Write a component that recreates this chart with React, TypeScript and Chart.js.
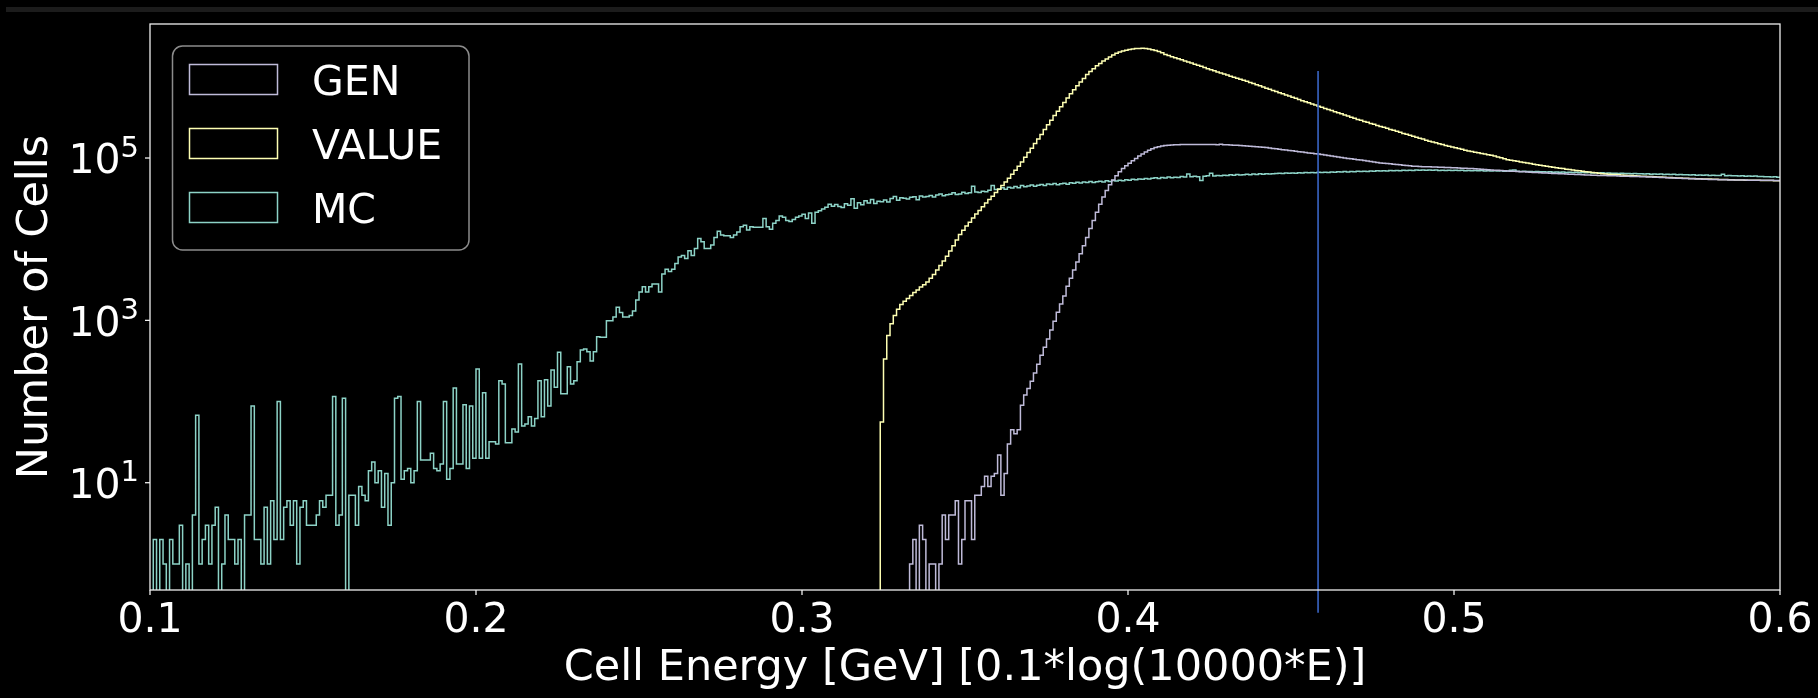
import { useEffect, useRef } from 'react';
import { Chart, registerables } from 'chart.js';

Chart.register(...registerables);

// Axis ranges
const X_MIN = 0.1;
const X_MAX = 0.6;
const BIN_WIDTH = 0.001;
const Y_MIN = 0.4767;
const Y_MAX = 4.476e6;
// Empty bins are drawn just below the bottom of the log axis
const EMPTY_BIN_LEVEL = Y_MIN / 10;

const xTickValues = [0.1, 0.2, 0.3, 0.4, 0.5, 0.6];
const xTickLabels = ['0.1', '0.2', '0.3', '0.4', '0.5', '0.6'];
const yTickExponents = [1, 3, 5];

const xTitle = 'Cell Energy [GeV] [0.1*log(10000*E)]';
const yTitle = 'Number of Cells';

// Bin edges: 500 bins of 0.001 between 0.1 and 0.6
const binEdges = Array.from({ length: 501 }, (_, i) => Number((X_MIN + i * BIN_WIDTH).toFixed(3)));

// MC counts per bin (bins 0..499)
const mcCounts = [
  0, 2, 0, 2, 1, 0, 2, 1, 1, 3,
  0, 1, 0, 4, 68, 1, 2, 3, 1, 3,
  5, 0, 1, 4, 2, 2, 1, 2, 0, 4,
  4, 88, 2, 2, 1, 5, 1, 6, 2, 100,
  2, 5, 6, 3, 6, 1, 5, 6, 3, 3,
  3, 4, 6, 5, 7, 7, 115, 3, 4, 110,
  0, 7, 7, 3, 9, 7, 6, 14, 18, 10,
  14, 5, 13, 3, 10, 110, 115, 11, 14, 15,
  10, 14, 100, 19, 19, 19, 23, 15, 14, 17,
  100, 11, 15, 147, 17, 17, 91, 15, 88, 20,
  251, 20, 128, 20, 32, 32, 30, 180, 165, 31,
  31, 46, 42, 290, 50, 53, 65, 50, 62, 180,
  65, 185, 88, 245, 150, 405, 125, 125, 268, 165,
  180, 310, 430, 445, 410, 315, 410, 630, 620, 620,
  990, 990, 1100, 1450, 1250, 1100, 1100, 1150, 1300, 1780,
  2240, 2590, 2240, 2600, 2800, 2800, 2240, 3720, 4260, 4000,
  4260, 5020, 6050, 6300, 5800, 7200, 6300, 7700, 10200, 9300,
  7700, 7700, 8500, 10500, 12500, 11300, 11000, 11000, 10500, 11300,
  12300, 14200, 14800, 13000, 14200, 14000, 14000, 14000, 18000, 14200,
  13300, 15700, 17000, 19300, 18600, 17000, 16500, 17500, 18600, 19300,
  20300, 18000, 21000, 15700, 21500, 22400, 23500, 24800, 27000, 25500,
  26800, 25200, 24600, 27400, 26100, 31500, 24000, 28200, 26500, 29800,
  28000, 30900, 27600, 29300, 29000, 30400, 28700, 31800, 33600, 30200,
  32500, 32000, 31200, 32900, 33400, 30600, 34100, 33000, 33500, 34600,
  33200, 35000, 36100, 34400, 35300, 35800, 37200, 35600, 36000, 37900,
  36500, 37400, 44800, 38100, 37600, 39000, 38400, 40200, 46000, 40800,
  41500, 42900, 41100, 43600, 42800, 44500, 43000, 45700, 44100, 45200,
  46600, 44900, 46100, 47300, 46000, 47900, 47100, 48600, 46800, 48300,
  48900, 47600, 49500, 48700, 50200, 49100, 50600, 49800, 51300, 50000,
  50900, 51800, 50700, 52400, 51500, 52900, 52000, 53300, 52600, 53800,
  53100, 54600, 53900, 55200, 54800, 56000, 55100, 56500, 57300, 55900,
  57600, 56800, 58400, 57200, 58000, 57500, 59100, 58200, 63500, 58600,
  59400, 58900, 53000, 59800, 60500, 64800, 60200, 61000, 60400, 61500,
  60900, 62100, 61400, 62600, 61800, 62300, 63100, 62200, 63500, 62700,
  63800, 63000, 64200, 63400, 64000, 64600, 64900, 64300, 65200, 64800,
  65500, 65000, 65800, 65300, 66100, 65600, 66400, 65900, 66800, 66200,
  67000, 66500, 67300, 66900, 67700, 67100, 68000, 67400, 68300, 67800,
  68600, 68100, 68900, 68400, 69200, 68700, 69500, 69000, 69800, 69300,
  70100, 69600, 70400, 69900, 70600, 70200, 70900, 70400, 71200, 70600,
  71000, 70500, 71300, 70700, 71100, 70400, 70900, 70200, 70800, 70300,
  70700, 70100, 70600, 69900, 70400, 69800, 70200, 69600, 70000, 69400,
  69900, 69200, 69700, 69000, 69500, 68800, 69300, 70500, 71000, 68600,
  68200, 68700, 68000, 68400, 67800, 68100, 67500, 67900, 67300, 67600,
  67000, 67400, 66800, 67100, 66500, 66900, 66300, 66600, 66000, 66400,
  65800, 66100, 65500, 65900, 65300, 65600, 65000, 65400, 64800, 65100,
  64500, 64900, 64300, 64600, 64000, 64400, 63800, 64100, 63500, 63900,
  63300, 63600, 63000, 63400, 62800, 63100, 62500, 62900, 62300, 62600,
  62000, 62400, 61800, 62100, 61500, 61900, 61300, 61600, 61000, 61400,
  60800, 61100, 63000, 60500, 60900, 60300, 60600, 60000, 60400, 59800,
  60100, 59500, 59900, 59300, 59000, 58700, 58900, 58400, 58600, 58100,
];

// VALUE counts, starting at bin 224 (earlier bins are empty)
const valueFirstBin = 224;
const valueCounts = [
  56, 333, 650, 906, 1150, 1370, 1570, 1720, 1860, 2020,
  2200, 2370, 2570, 2750, 2960, 3310, 3670, 4170, 4730, 5370,
  6150, 7160, 8320, 9770, 11400, 12900, 14500, 16200, 18200, 20400,
  22600, 25100, 27900, 30900, 33900, 37600, 41200, 45700, 50700, 56200,
  63100, 70800, 79400, 89100, 102000, 117000, 132000, 151000, 171000, 195000,
  224000, 257000, 292000, 333000, 376000, 427000, 484000, 550000, 620000, 692000,
  776000, 861000, 955000, 1067000, 1161000, 1259000, 1365000, 1462000, 1567000, 1660000,
  1758000, 1854000, 1950000, 2018000, 2080000, 2128000, 2173000, 2203000, 2228000, 2239000,
  2242000, 2228000, 2203000, 2163000, 2113000, 2051000, 1986000, 1884000, 1828000, 1770000,
  1718000, 1667000, 1618000, 1570000, 1524000, 1479000, 1432000, 1387000, 1346000, 1303000,
  1262000, 1225000, 1186000, 1151000, 1114000, 1081000, 1050000, 1019000, 991000, 962000,
  933000, 906000, 881000, 853000, 826000, 800000, 774000, 750000, 724000, 701000,
  679000, 658000, 637000, 617000, 597000, 579000, 561000, 543000, 526000, 509000,
  493000, 479000, 463000, 449000, 435000, 422000, 408000, 396000, 384000, 372000,
  361000, 350000, 339000, 329000, 318000, 309000, 299000, 291000, 282000, 275000,
  267000, 260000, 252000, 245000, 239000, 232000, 225000, 219000, 213000, 207000,
  201000, 196000, 191000, 185000, 180000, 175000, 171000, 166000, 161000, 157000,
  154000, 150000, 147000, 143000, 140000, 137000, 134000, 131000, 128000, 125000,
  122000, 120000, 118000, 116000, 114000, 112000, 110000, 108000, 106000, 103000,
  100500, 98000, 95500, 94000, 92500, 91000, 89500, 88100, 86700, 85300,
  83900, 82600, 81300, 80200, 79100, 78200, 77100, 76000, 75000, 74000,
  72900, 72100, 71100, 70300, 69500, 68700, 67900, 67100, 66400, 65600,
  64900, 64100, 63500, 63100, 62800, 62500, 62100, 61800, 61500, 61100,
  60800, 60500, 60100, 59800, 59600, 59300, 59000, 58700, 58500, 58200,
  57900, 57700, 57400, 57100, 56900, 56800, 56500, 56200, 56100, 55800,
  55700, 55500, 55200, 55100, 55000, 54800, 54600, 54400, 54300, 54200,
  54000, 53800, 53700, 53600, 53500, 53300, 53300, 53200, 53100, 53100,
  53000, 52800, 52800, 52700, 52600, 52500,
];

// GEN counts, starting at bin 233 (earlier bins are empty)
const genFirstBin = 233;
const genCounts = [
  1, 2, 0, 3, 2, 0, 1, 1, 0, 1,
  4, 2, 4, 4, 6, 1, 2, 6, 6, 2,
  7, 7, 9, 12, 9, 12, 13, 22, 7, 13,
  30, 45, 40, 45, 90, 120, 145, 178, 224, 288,
  372, 468, 589, 759, 977, 1260, 1590, 2000, 2630, 3310,
  4170, 5250, 6610, 8320, 10500, 13500, 17000, 21400, 26900, 33100,
  39800, 46800, 53700, 60300, 67600, 74100, 80400, 86100, 92300, 98900,
  105900, 112200, 118900, 124500, 130300, 134900, 138000, 140600, 142200, 143600,
  144500, 145200, 145900, 146200, 146600, 146900, 146900, 147200, 146900, 146900,
  146900, 146900, 146600, 146200, 145900, 147900, 145500, 145200, 144500, 143900,
  143200, 142600, 141900, 140900, 140000, 139000, 138000, 136800, 135500, 134300,
  132800, 131200, 129700, 128200, 126800, 125300, 123900, 122500, 121100, 119700,
  118300, 117000, 115600, 114300, 113000, 111700, 110200, 108600, 107200, 105700,
  104200, 102800, 101400, 100000, 98900, 97700, 96600, 95300, 94200, 92900,
  91600, 90600, 89300, 88300, 87100, 86300, 85500, 84700, 83900, 83200,
  82400, 81700, 80900, 80200, 79400, 79100, 78700, 78300, 78000, 77800,
  77400, 77300, 77100, 76900, 76600, 76400, 76000, 75700, 75300, 75000,
  74600, 74300, 74000, 73600, 73100, 72600, 72100, 71600, 71100, 70800,
  70500, 70000, 69500, 69200, 68900, 68500, 68100, 67800, 67500, 67100,
  66800, 66400, 66100, 65800, 65500, 65200, 64900, 64600, 64300, 64000,
  63800, 63500, 63200, 63100, 62800, 62500, 62200, 61900, 61700, 61500,
  61200, 61100, 61000, 60800, 60500, 60400, 60300, 60100, 59800, 59700,
  59600, 59300, 59200, 59000, 58900, 58600, 58500, 58200, 58100, 57800,
  57500, 57400, 57100, 56900, 56800, 56500, 56200, 56100, 55800, 55600,
  55500, 55200, 55000, 54800, 54600, 54500, 54300, 54200, 54100, 54000,
  53800, 53700, 53700, 53600, 53600, 53500, 53500, 53300, 53300, 53200,
  53200, 53200, 53100, 53100, 53100, 53000, 53000,
];

// Reference energy marked by a vertical line
const markerLineX = 0.4583;

const COLORS = {
  GEN: '#bfbbd9',
  VALUE: '#feffb3',
  MC: '#8dd3c7',
  marker: '#3a66c6',
  text: '#ffffff',
  spine: '#eeeeee',
  legendEdge: '#8c8c8c',
};

const legendEntries = [
  { label: 'GEN', color: COLORS.GEN },
  { label: 'VALUE', color: COLORS.VALUE },
  { label: 'MC', color: COLORS.MC },
];

const FONT = '"DejaVu Sans", "Liberation Sans", sans-serif';

// Outline of a step histogram as points for a stepped line;
// empty bins drop below the axis like a log-scale histogram does
function histogramPoints(counts: number[], firstBin: number) {
  const level = (c: number) => (c > 0 ? c : EMPTY_BIN_LEVEL);
  const pts: { x: number; y: number }[] = [{ x: binEdges[firstBin], y: EMPTY_BIN_LEVEL }];
  counts.forEach((c, k) => pts.push({ x: binEdges[firstBin + k], y: level(c) }));
  pts.push({ x: binEdges[firstBin + counts.length], y: level(counts[counts.length - 1]) });
  return pts;
}

const decorations = {
  id: 'decorations',
  afterDatasetsDraw(chart: any) {
    const { ctx, chartArea: a, scales } = chart;
    const xs = scales.x;
    const ys = scales.y;
    const h = a.bottom - a.top;
    ctx.save();

    // black band below the plot hides the parts of the step outlines that dip under the axis
    ctx.fillStyle = '#000';
    ctx.fillRect(a.left - 2, a.bottom + 0.7, a.right - a.left + 4, 6);

    // vertical marker line
    const mx = xs.getPixelForValue(markerLineX);
    ctx.strokeStyle = COLORS.marker;
    ctx.lineWidth = 1.6;
    ctx.beginPath();
    ctx.moveTo(mx, a.bottom - 0.917 * h);
    ctx.lineTo(mx, a.bottom + 0.04 * h);
    ctx.stroke();

    // axes frame
    ctx.strokeStyle = COLORS.spine;
    ctx.lineWidth = 1.3;
    ctx.strokeRect(a.left, a.top, a.right - a.left, a.bottom - a.top);

    // x ticks and labels
    ctx.fillStyle = COLORS.text;
    ctx.font = `41px ${FONT}`;
    ctx.textAlign = 'center';
    ctx.textBaseline = 'alphabetic';
    xTickValues.forEach((v, i) => {
      const px = xs.getPixelForValue(v);
      ctx.beginPath();
      ctx.moveTo(px, a.bottom);
      ctx.lineTo(px, a.bottom + 5);
      ctx.stroke();
      ctx.fillText(xTickLabels[i], px, a.bottom + 41.7);
    });

    // y ticks and labels (10^n)
    yTickExponents.forEach((e) => {
      const py = ys.getPixelForValue(Math.pow(10, e));
      ctx.beginPath();
      ctx.moveTo(a.left - 5, py);
      ctx.lineTo(a.left, py);
      ctx.stroke();
      ctx.font = `41px ${FONT}`;
      const baseW = ctx.measureText('10').width;
      ctx.font = `29px ${FONT}`;
      const supW = ctx.measureText(String(e)).width;
      const right = a.left - 11;
      const start = right - baseW - supW;
      ctx.textAlign = 'left';
      ctx.font = `41px ${FONT}`;
      ctx.fillText('10', start, py + 15.3);
      ctx.font = `29px ${FONT}`;
      ctx.fillText(String(e), start + baseW, py - 1.3);
    });

    // axis titles
    ctx.font = `43px ${FONT}`;
    ctx.textAlign = 'center';
    ctx.fillText(xTitle, (a.left + a.right) / 2, 680);
    ctx.save();
    ctx.translate(47, (a.top + a.bottom) / 2);
    ctx.rotate(-Math.PI / 2);
    ctx.fillText(yTitle, 0, 0);
    ctx.restore();

    // legend
    ctx.fillStyle = 'rgba(0,0,0,0.8)';
    ctx.strokeStyle = COLORS.legendEdge;
    ctx.lineWidth = 1.5;
    ctx.beginPath();
    ctx.roundRect(172.5, 46, 296.5, 204, 10);
    ctx.fill();
    ctx.stroke();
    ctx.font = `41px ${FONT}`;
    ctx.textAlign = 'left';
    legendEntries.forEach((entry, i) => {
      const top = 64.5 + i * 64;
      ctx.strokeStyle = entry.color;
      ctx.lineWidth = 1.5;
      ctx.strokeRect(189.5, top, 88, 30);
      ctx.fillStyle = COLORS.text;
      ctx.fillText(entry.label, 312, top + 30);
    });

    ctx.restore();
  },
};

export default function App() {
  const canvasRef = useRef<HTMLCanvasElement | null>(null);

  useEffect(() => {
    document.body.style.margin = '0';
    document.body.style.background = '#000';
    const canvas = canvasRef.current;
    if (!canvas) return;

    const lineStyle = {
      pointRadius: 0,
      borderWidth: 1.5,
      fill: false,
      stepped: true as const,
      tension: 0,
    };

    const chart = new Chart(canvas, {
      type: 'line',
      data: {
        datasets: [
          { label: 'GEN', data: histogramPoints(genCounts, genFirstBin), borderColor: COLORS.GEN, ...lineStyle },
          { label: 'VALUE', data: histogramPoints(valueCounts, valueFirstBin), borderColor: COLORS.VALUE, ...lineStyle },
          { label: 'MC', data: histogramPoints(mcCounts, 0), borderColor: COLORS.MC, ...lineStyle },
        ],
      },
      options: {
        animation: false,
        responsive: false,
        devicePixelRatio: 1,
        events: [],
        layout: { padding: { left: 150, right: 38, top: 24, bottom: 108 } },
        plugins: {
          legend: { display: false },
          tooltip: { enabled: false },
          title: { display: false },
        },
        scales: {
          x: { type: 'linear', min: X_MIN, max: X_MAX, display: false },
          y: { type: 'logarithmic', min: Y_MIN, max: Y_MAX, display: false },
        },
      },
      plugins: [decorations],
    });

    return () => chart.destroy();
  }, []);

  return (
    <div style={{ position: 'fixed', left: 0, top: 0, width: 1818, height: 698, background: '#000', overflow: 'hidden' }}>
      <div style={{ position: 'absolute', left: 6, top: 7, width: 1812, height: 5, background: '#1c1c1c' }} />
      <canvas ref={canvasRef} width={1818} height={698} style={{ position: 'absolute', left: 0, top: 0, display: 'block' }} />
    </div>
  );
}
